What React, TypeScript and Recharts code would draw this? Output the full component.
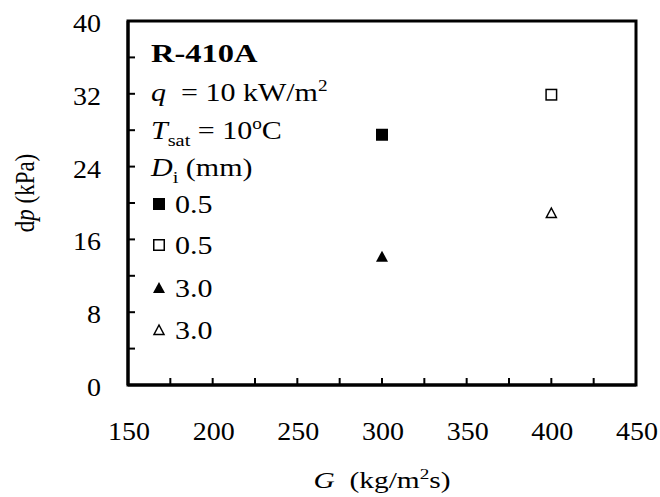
import { ScatterChart, Scatter, XAxis, YAxis, ReferenceArea, Legend } from "recharts";

// mass flux G (kg/m2s) and pressure drop dp (kPa), one list per series
const seriesNames = ["0.5", "0.5", "3.0", "3.0"];
const seriesMarkers = ["squareFilled", "squareOpen", "triangleFilled", "triangleOpen"];
const gValues = [[300], [400], [300], [400]];
const dpValues = [[27.5], [31.9], [14.1], [18.9]];

const xTicks = [150, 175, 200, 225, 250, 275, 300, 325, 350, 375, 400, 425, 450];
const yTicks = [0, 4, 8, 12, 16, 20, 24, 28, 32, 36, 40];

const FONT = "Liberation Serif, Times New Roman, serif";

// the source picture is a little wider than tall, so text is stretched sideways
function SText({ x, y, sx, anchor = "start", size, children, ...rest }: any) {
  return (
    <text
      transform={`translate(${x} ${y}) scale(${sx} 1)`}
      x={0}
      y={0}
      textAnchor={anchor}
      fontSize={size}
      fontFamily={FONT}
      fill="#000"
      {...rest}
    >
      {children}
    </text>
  );
}

function Marker({ kind, cx, cy }: { kind: string; cx: number; cy: number }) {
  if (kind === "squareFilled") return <rect x={cx - 6} y={cy - 6} width={12} height={12} fill="#000" />;
  if (kind === "squareOpen")
    return <rect x={cx - 5.25} y={cy - 5.25} width={10.5} height={10.5} fill="#fff" stroke="#000" strokeWidth={1.5} />;
  if (kind === "triangleFilled")
    return <polygon points={`${cx},${cy - 6} ${cx + 6},${cy + 5} ${cx - 6},${cy + 5}`} fill="#000" />;
  return (
    <polygon
      points={`${cx},${cy - 5} ${cx + 5},${cy + 4.5} ${cx - 5},${cy + 4.5}`}
      fill="#fff"
      stroke="#000"
      strokeWidth={1.5}
    />
  );
}

const XTick = (props: any) => {
  const { x, y, payload } = props;
  return (
    <g>
      <line x1={x} x2={x} y1={y} y2={y - 7} stroke="#000" strokeWidth={2} />
      {payload.value % 50 === 0 && (
        <SText x={x + 1} y={y + 55} sx={1.12} size={25} anchor="middle">
          {payload.value}
        </SText>
      )}
    </g>
  );
};

const YTick = (props: any) => {
  const { x, y, payload } = props;
  return (
    <g>
      <line x1={x} x2={x + 7} y1={y} y2={y} stroke="#000" strokeWidth={2} />
      {payload.value % 8 === 0 && (
        <SText x={x - 27} y={y + 11} sx={1.12} size={25} anchor="end">
          {payload.value}
        </SText>
      )}
    </g>
  );
};

const XTitle = (props: any) => {
  const vb = props.viewBox;
  return (
    <SText x={vb.x + vb.width / 2} y={vb.y + 103} sx={1.28} size={23} anchor="middle">
      <tspan fontStyle="italic">G</tspan>
      <tspan>{"\u00a0 (kg/m"}</tspan>
      <tspan fontSize={15} dy={-9}>2</tspan>
      <tspan dy={9}>s)</tspan>
    </SText>
  );
};

const YTitle = () => {
  const cx = 24;
  const cy = 193;
  return (
    <text
      transform={`translate(${cx} ${cy}) scale(1.2 1) rotate(-90)`}
      x={0}
      y={8}
      textAnchor="middle"
      fontSize={23}
      fontFamily={FONT}
      fill="#000"
    >
      <tspan>d</tspan>
      <tspan fontStyle="italic">p</tspan>
      <tspan> (kPa)</tspan>
    </text>
  );
};

const LegendBox = (props: any) => {
  const payload = props.payload || [];
  const fs = 25;
  const sx = 1.2;
  const tx = 151;
  const rows = [204, 245, 288, 330];
  return (
    <svg width={660} height={497} style={{ position: "absolute", left: 0, top: 0, pointerEvents: "none" }}>
      <SText x={tx} y={53 + 9} sx={1.3} size={fs} fontWeight="bold">R-410A</SText>
      <SText x={tx} y={92 + 9} sx={sx} size={fs}>
        <tspan fontStyle="italic">q</tspan>
        <tspan>{"\u00a0 = 10 kW/m"}</tspan>
        <tspan fontSize={16} dy={-10}>2</tspan>
      </SText>
      <SText x={tx} y={130 + 9} sx={sx} size={fs}>
        <tspan fontStyle="italic">T</tspan>
        <tspan fontSize={17} dy={7}>sat</tspan>
        <tspan dy={-7}> = 10</tspan>
        <tspan fontSize={16} dy={-10}>o</tspan>
        <tspan dy={10}>C</tspan>
      </SText>
      <SText x={tx} y={167 + 9} sx={sx} size={fs}>
        <tspan fontStyle="italic">D</tspan>
        <tspan fontSize={17} dy={7}>i</tspan>
        <tspan dy={-7}> (mm)</tspan>
      </SText>
      {payload.map((entry: any, i: number) => (
        <g key={i}>
          <Marker kind={seriesMarkers[i]} cx={159} cy={rows[i]} />
          <SText x={175} y={rows[i] + 9} sx={sx} size={fs}>{entry.value}</SText>
        </g>
      ))}
    </svg>
  );
};

export default function App() {
  return (
    <div style={{ position: "absolute", left: 0, top: 0, width: 660, height: 497, background: "#fff" }}>
      <ScatterChart width={660} height={497} margin={{ top: 21, right: 24, bottom: 0, left: 0 }}>
        <XAxis
          type="number"
          dataKey="G"
          domain={[150, 450]}
          ticks={xTicks}
          interval={0}
          height={112}
          tickSize={0}
          tickMargin={0}
          tickLine={false}
          tick={<XTick />}
          axisLine={{ stroke: "#000", strokeWidth: 3 }}
          label={{ content: XTitle }}
        />
        <YAxis
          type="number"
          dataKey="dp"
          domain={[0, 40]}
          ticks={yTicks}
          interval={0}
          width={128}
          tickSize={0}
          tickMargin={0}
          tickLine={false}
          tick={<YTick />}
          axisLine={{ stroke: "#000", strokeWidth: 3 }}
          label={{ content: YTitle }}
        />
        <ReferenceArea x1={150} x2={450} y1={0} y2={40} fill="#fff" fillOpacity={0} stroke="#000" strokeWidth={3} ifOverflow="visible" />
        {seriesNames.map((name, i) => (
          <Scatter
            key={i}
            name={name}
            data={gValues[i].map((g, j) => ({ G: g, dp: dpValues[i][j] }))}
            fill="#000"
            isAnimationActive={false}
            shape={(p: any) => <Marker kind={seriesMarkers[i]} cx={p.cx} cy={p.cy} />}
          />
        ))}
        <Legend
          layout="vertical"
          align="center"
          verticalAlign="middle"
          content={LegendBox}
          wrapperStyle={{ left: 0, top: 0, width: 660, height: 497, pointerEvents: "none" }}
        />
      </ScatterChart>
    </div>
  );
}
